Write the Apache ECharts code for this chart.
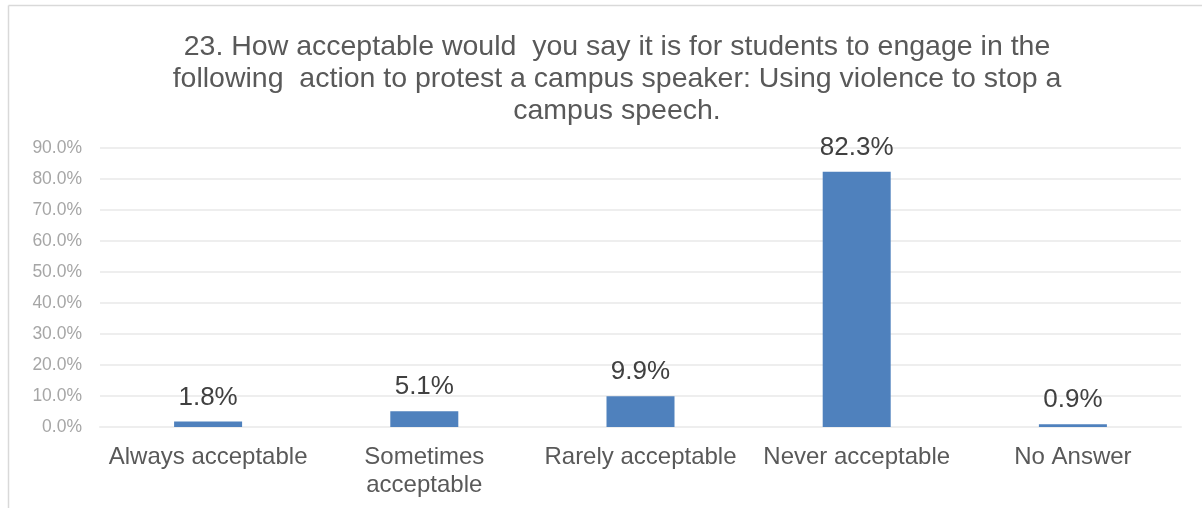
<!DOCTYPE html>
<html><head><meta charset="utf-8">
<script src="https://cdn.jsdelivr.net/npm/echarts@6/dist/echarts.min.js"></script>
<style>html,body{margin:0;padding:0;background:#fff}#c{width:1202px;height:508px}</style>
</head><body><div id="c"></div>
<script>
const titleLines = ["23. How acceptable would  you say it is for students to engage in the", "following  action to protest a campus speaker: Using violence to stop a", "campus speech."];
const categories = ["Always acceptable", "Sometimes\nacceptable", "Rarely acceptable", "Never acceptable", "No Answer"];
const values = [1.8, 5.1, 9.9, 82.3, 0.9];
const yTicks = [0, 10, 20, 30, 40, 50, 60, 70, 80, 90];

const chart = echarts.init(document.getElementById('c'), null, {renderer: 'canvas'});
chart.setOption({
  backgroundColor: '#fff',
  animation: false,
  title: {
    text: titleLines.join('\n'),
    left: 612, top: 26, textAlign: 'center',
    textStyle: {fontFamily: 'Liberation Sans, Arial', fontSize: 28.5, fontWeight: 'normal', color: '#595959', lineHeight: 32}
  },
  graphic: [
    {type: 'line', shape: {x1: 8.5, y1: 5.5, x2: 1202, y2: 5.5}, style: {stroke: '#d9d9d9', lineWidth: 1.5}},
    {type: 'line', shape: {x1: 8.5, y1: 5.5, x2: 8.5, y2: 508}, style: {stroke: '#d9d9d9', lineWidth: 1.5}}
  ],
  grid: {left: 100, right: 21, top: 148, bottom: 81, containLabel: false},
  xAxis: {
    type: 'category', data: categories,
    axisLine: {show: true, lineStyle: {color: '#eeeeee', width: 2}},
    axisTick: {show: false},
    axisLabel: {fontFamily: 'Liberation Sans, Arial', fontSize: 24, color: '#595959', margin: 16, lineHeight: 28, interval: 0}
  },
  yAxis: {
    type: 'value', min: yTicks[0], max: yTicks[yTicks.length - 1], interval: 10,
    axisLine: {show: false}, axisTick: {show: false},
    splitLine: {lineStyle: {color: '#eeeeee', width: 2}},
    axisLabel: {fontFamily: 'Liberation Sans, Arial', fontSize: 17.5, color: '#a6a6a6', margin: 18,
      formatter: v => v.toFixed(1) + '%'}
  },
  series: [{
    type: 'bar', data: values, barWidth: 68,
    itemStyle: {color: '#4f81bd'},
    label: {show: true, position: 'top', distance: 11, fontFamily: 'Liberation Sans, Arial', fontSize: 26, color: '#404040',
      formatter: p => p.value.toFixed(1) + '%'}
  }]
});
</script></body></html>
